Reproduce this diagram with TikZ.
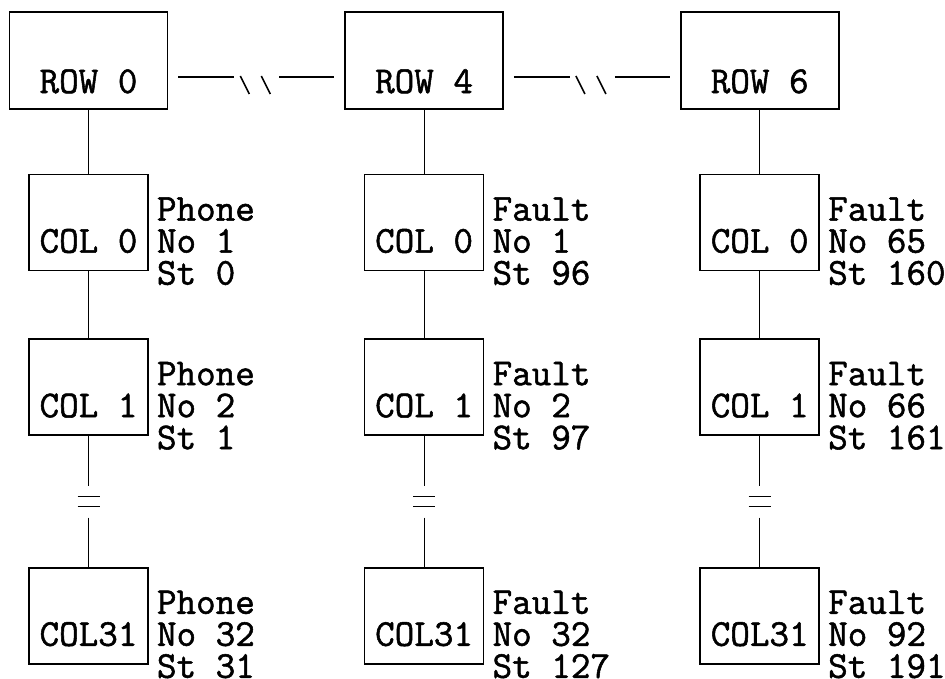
\documentclass[tikz,border=0pt]{standalone}
\usepackage{fontspec}
\usetikzlibrary{positioning,calc}
\newfontfamily\ttthick{Latin Modern Mono}[FakeBold=1.4]
\newcommand{\ttbig}{\fontsize{38}{32}\selectfont\ttthick}
\tikzset{
  rowbox/.style={
    draw,
    line width=1.6pt,
    font=\ttbig,
    minimum width=158pt,
    minimum height=97pt,
    inner sep=4pt,
    text height=77pt,
    text depth=12pt
  },
  colbox/.style={
    draw,
    line width=1.6pt,
    font=\ttbig,
    minimum width=119pt,
    minimum height=96pt,
    inner sep=4pt,
    text height=74pt,
    text depth=14pt
  },
  info/.style={font=\ttbig, align=left, inner sep=0pt, anchor=base west},
  link/.style={line width=1.1pt},
  slash/.style={line width=1.6pt}
}

\begin{document}
\begin{tikzpicture}[x=1pt, y=1pt]
    \useasboundingbox (0,0) rectangle (945,-678);
    % row boxes
    \node[rowbox] (row0) at (88.5,-60.5) {ROW 0};
    \node[rowbox, right=176pt of row0] (row4) {ROW 4};
    \node[rowbox, right=176pt of row4] (row6) {ROW 6};
    % column boxes
    \node[colbox, below=64pt of row0] (c00) {COL 0};
    \node[colbox, below=67pt of c00] (c01) {COL 1};
    \node[colbox, below=131pt of c01] (c02) {COL31};
    \node[colbox, below=64pt of row4] (c40) {COL 0};
    \node[colbox, below=67pt of c40] (c41) {COL 1};
    \node[colbox, below=131pt of c41] (c42) {COL31};
    \node[colbox, below=64pt of row6] (c60) {COL 0};
    \node[colbox, below=67pt of c60] (c61) {COL 1};
    \node[colbox, below=131pt of c61] (c62) {COL31};
    % labels (middle line on the box baseline)
    \node[info] (l00) at ([shift={(8pt,-32pt)}]c00.base east) {Phone\\No 1\\St 0};
    \node[info] (l01) at ([shift={(8pt,-32pt)}]c01.base east) {Phone\\No 2\\St 1};
    \node[info] (l02) at ([shift={(8pt,-32pt)}]c02.base east) {Phone\\No 32\\St 31};
    \node[info] (l40) at ([shift={(8pt,-32pt)}]c40.base east) {Fault\\No 1\\St 96};
    \node[info] (l41) at ([shift={(8pt,-32pt)}]c41.base east) {Fault\\No 2\\St 97};
    \node[info] (l42) at ([shift={(8pt,-32pt)}]c42.base east) {Fault\\No 32\\St 127};
    \node[info] (l60) at ([shift={(8pt,-32pt)}]c60.base east) {Fault\\No 65\\St 160};
    \node[info] (l61) at ([shift={(8pt,-32pt)}]c61.base east) {Fault\\No 66\\St 161};
    \node[info] (l62) at ([shift={(8pt,-32pt)}]c62.base east) {Fault\\No 92\\St 191};
    % horizontal links with breaks
    \coordinate (h04) at ($(row0.east)!.5!(row4.west)$);
    \coordinate (h46) at ($(row4.east)!.5!(row6.west)$);
    \draw[link] ([shift={(10pt,-16.5pt)}]row0.east) -- ([shift={(-22pt,-16.5pt)}]h04);
    \draw[link] ([shift={(23pt,-16.5pt)}]h04) -- ([shift={(-10pt,-16.5pt)}]row4.west);
    \draw[slash] ([shift={(-16pt,-15.5pt)}]h04) -- ++(9pt,-18pt);
    \draw[slash] ([shift={(5pt,-15.5pt)}]h04) -- ++(9pt,-18pt);
    \draw[link] ([shift={(10pt,-16.5pt)}]row4.east) -- ([shift={(-22pt,-16.5pt)}]h46);
    \draw[link] ([shift={(23pt,-16.5pt)}]h46) -- ([shift={(-10pt,-16.5pt)}]row6.west);
    \draw[slash] ([shift={(-16pt,-15.5pt)}]h46) -- ++(9pt,-18pt);
    \draw[slash] ([shift={(5pt,-15.5pt)}]h46) -- ++(9pt,-18pt);
    % vertical links
    \draw[link] (row0) -- (c00);
    \draw[link] (c00) -- (c01);
    \draw[link] (row4) -- (c40);
    \draw[link] (c40) -- (c41);
    \draw[link] (row6) -- (c60);
    \draw[link] (c60) -- (c61);
    % vertical breaks
    \coordinate (g0) at ($(c01.south)!.5!(c02.north)$);
    \coordinate (g4) at ($(c41.south)!.5!(c42.north)$);
    \coordinate (g6) at ($(c61.south)!.5!(c62.north)$);
    \draw[link] (c01.south) -- ([yshift=16pt]g0);
    \draw[link] ([yshift=-16pt]g0) -- (c02.north);
    \draw[link] ([shift={(-11pt,5pt)}]g0) -- ++(22pt,0) ([shift={(-11pt,-5pt)}]g0) -- ++(22pt,0);
    \draw[link] (c41.south) -- ([yshift=16pt]g4);
    \draw[link] ([yshift=-16pt]g4) -- (c42.north);
    \draw[link] ([shift={(-11pt,5pt)}]g4) -- ++(22pt,0) ([shift={(-11pt,-5pt)}]g4) -- ++(22pt,0);
    \draw[link] (c61.south) -- ([yshift=16pt]g6);
    \draw[link] ([yshift=-16pt]g6) -- (c62.north);
    \draw[link] ([shift={(-11pt,5pt)}]g6) -- ++(22pt,0) ([shift={(-11pt,-5pt)}]g6) -- ++(22pt,0);
  \end{tikzpicture}
\end{document}
